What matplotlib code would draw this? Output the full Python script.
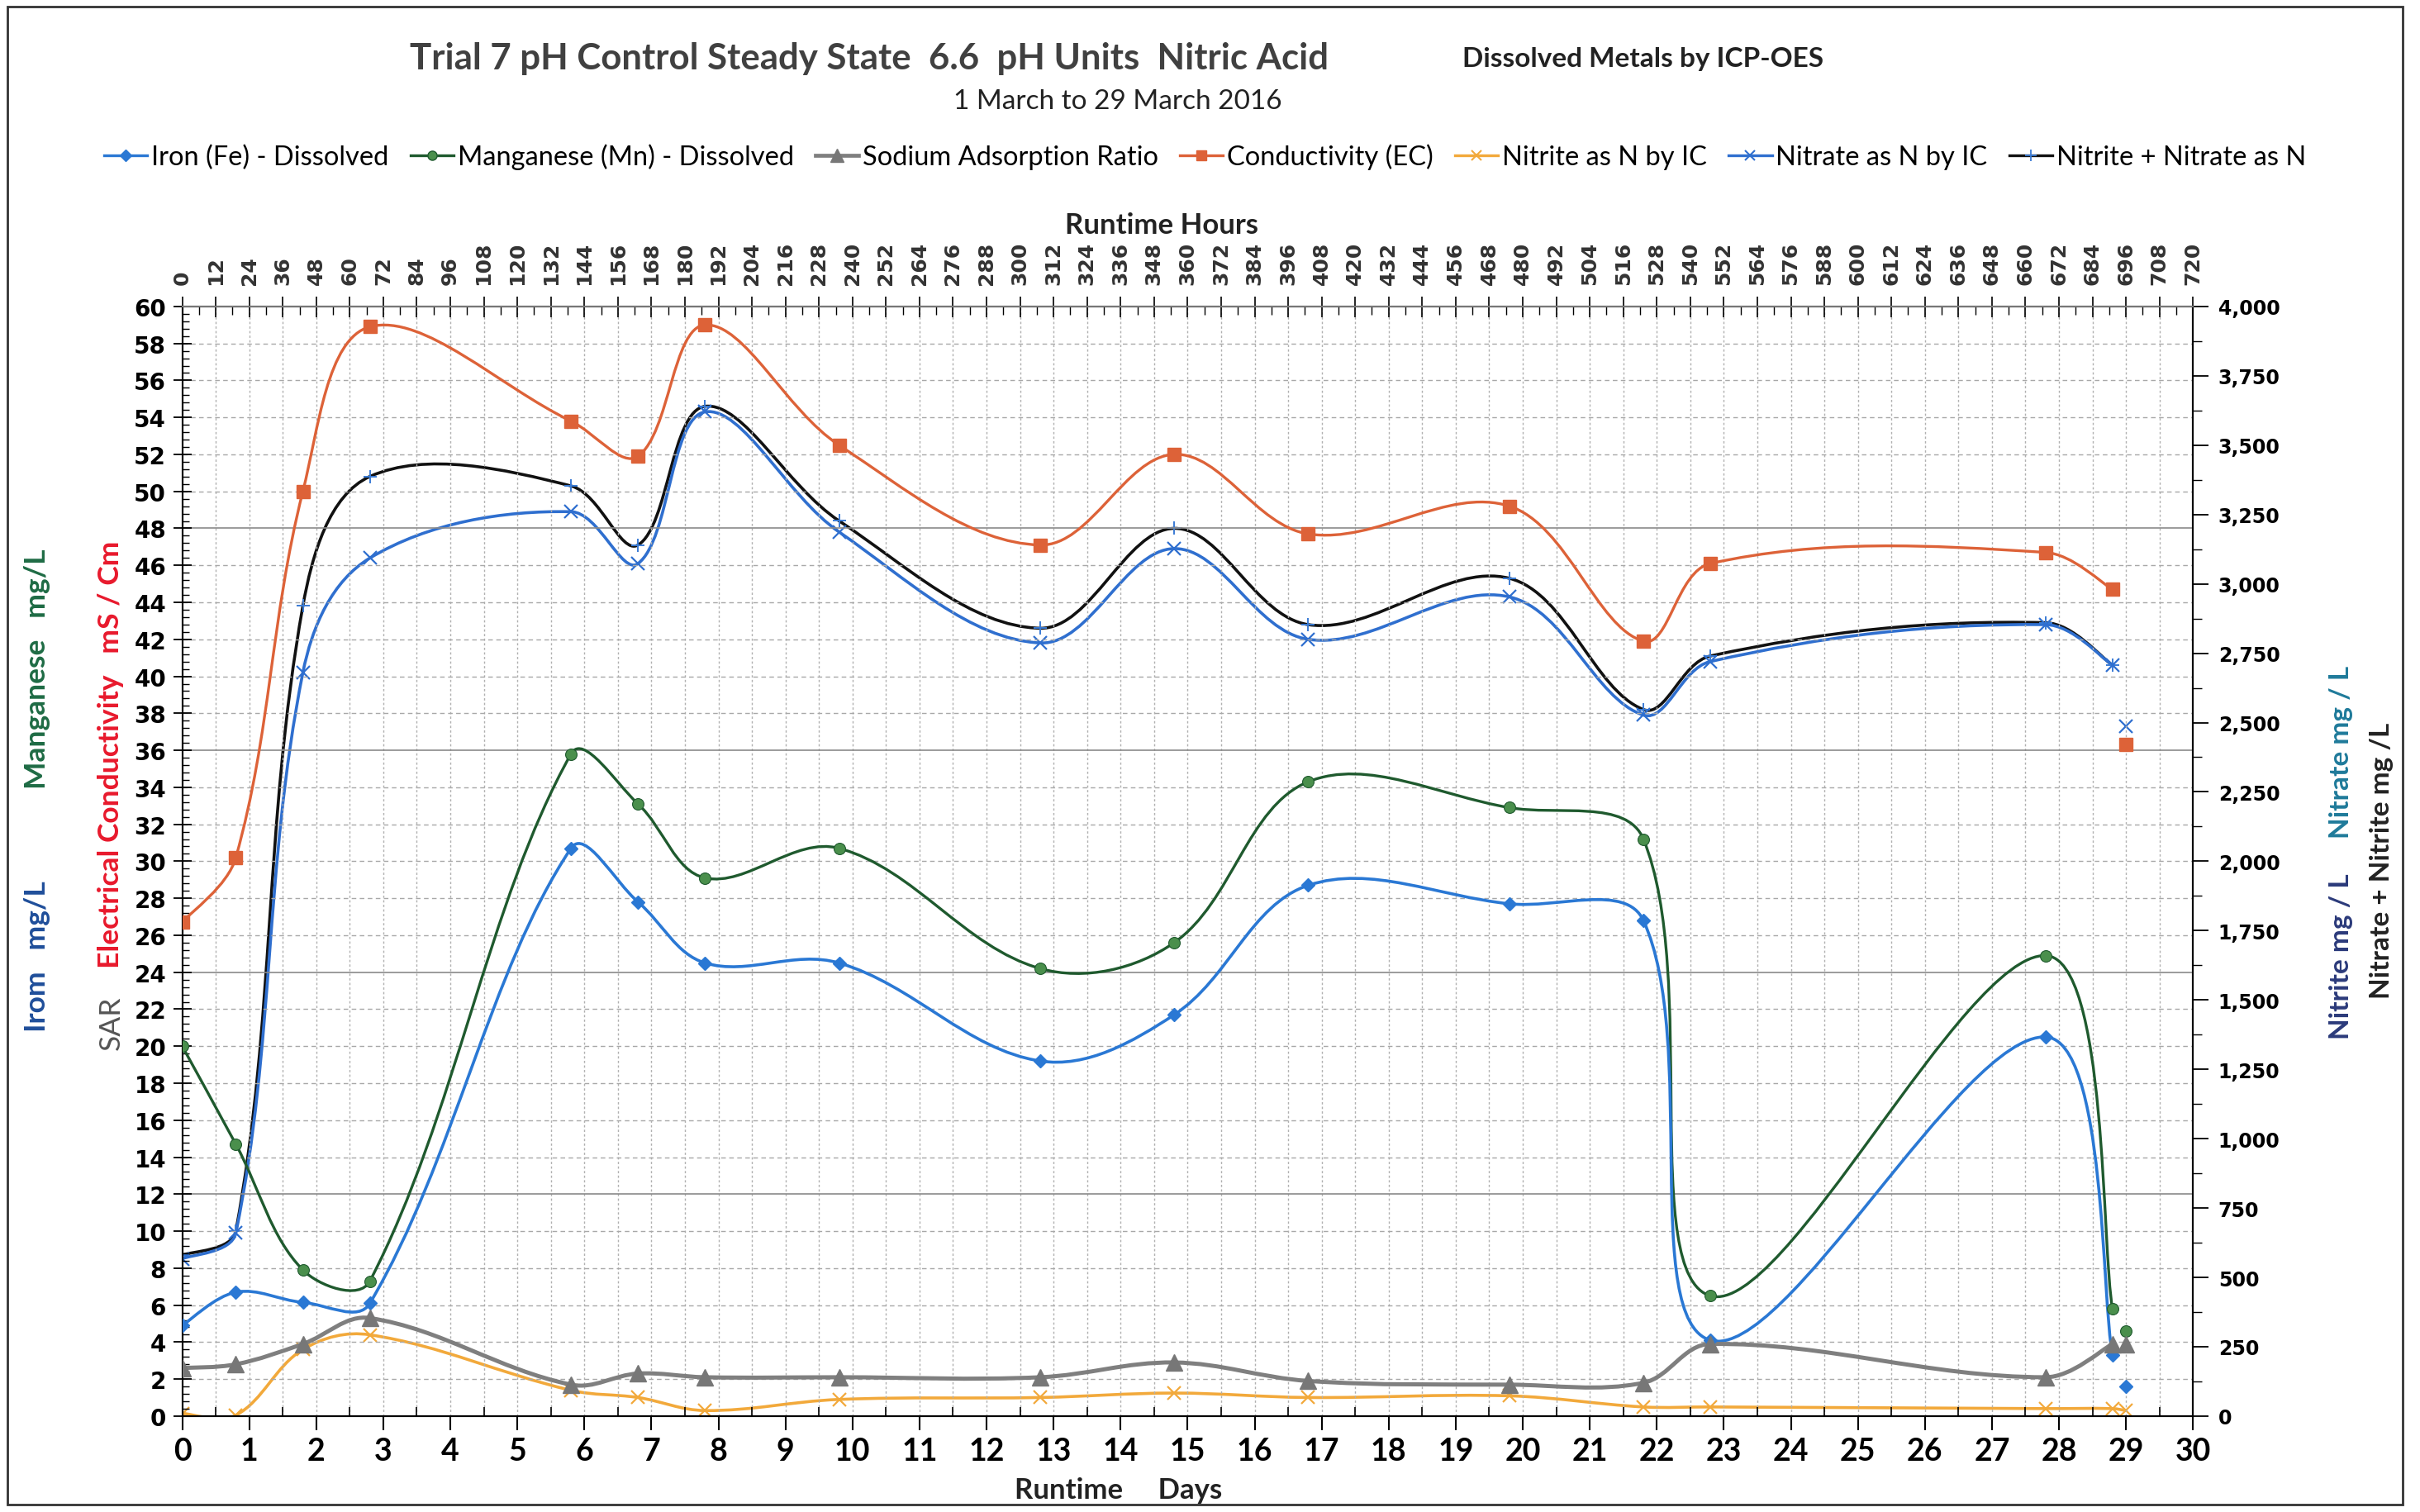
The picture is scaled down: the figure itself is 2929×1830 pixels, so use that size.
import numpy as np
import matplotlib
matplotlib.use("Agg")
import matplotlib.pyplot as plt
from matplotlib.path import Path
from matplotlib.patches import PathPatch, Rectangle
from matplotlib.lines import Line2D
from matplotlib.ticker import MultipleLocator, FuncFormatter

# runtime days of each sample (last sample, day 29, is plotted on its own)
days = [0, 0.8, 1.8, 2.8, 5.8, 6.8, 7.8, 9.8, 12.8, 14.8, 16.8, 19.8, 21.8, 22.8, 27.8, 28.8]
day_last = 29.0

# left axis series
iron = [4.9, 6.7, 6.15, 6.1, 30.7, 27.8, 24.5, 24.5, 19.2, 21.7, 28.7, 27.7, 26.8, 4.1, 20.5, 3.3]
manganese = [20.0, 14.7, 7.9, 7.3, 35.8, 33.1, 29.1, 30.7, 24.2, 25.6, 34.3, 32.9, 31.2, 6.5, 24.9, 5.8]
sar = [2.6, 2.8, 3.9, 5.3, 1.7, 2.3, 2.1, 2.1, 2.1, 2.9, 1.9, 1.7, 1.8, 3.9, 2.1, 3.9]
conductivity = [26.7, 30.2, 50.0, 58.9, 53.8, 51.9, 59.0, 52.5, 47.1, 52.0, 47.7, 49.2, 41.9, 46.1, 46.7, 44.7]

# right axis series (mg/L)
nitrite = [10, 3, 240, 293, 93, 67, 20, 60, 67, 83, 67, 73, 33, 33, 27, 27]
nitrate = [567, 660, 2680, 3093, 3260, 3073, 3620, 3187, 2787, 3127, 2800, 2953, 2527, 2720, 2853, 2707]
nitrite_nitrate = [580, 667, 2920, 3387, 3353, 3140, 3640, 3227, 2840, 3200, 2853, 3020, 2547, 2740, 2860, 2707]

# day 29 single readings
last_left = {"iron": 1.6, "manganese": 4.6, "sar": 3.9, "conductivity": 36.3}
last_right = {"nitrite": 20, "nitrate": 2487}

c_iron = "#2a78d4"
c_mn_line = "#1f5a2e"
c_mn_mark = "#4a8f4c"
c_sar = "#7f7f7f"
c_ec = "#dd6238"
c_no2 = "#f2a93b"
c_no3 = "#2f6fcf"
c_sum = "#111111"

PX_DAY = 81.1          # screen pixels per day
PX_LEFT = 1343 / 60    # screen pixels per left-axis unit
PX_RIGHT = 1343 / 4000  # screen pixels per right-axis unit


def smooth(ax, x, y, color, lw, sy, z=3, k=0.36):
    # Excel-like smoothed line: bezier segments, tangents weighted by chord length
    p = np.column_stack([np.array(x, float) * PX_DAY, np.array(y, float) * sy])
    n = len(p)
    d = np.hypot(*(p[1:] - p[:-1]).T)
    c_out = np.zeros_like(p)
    c_in = np.zeros_like(p)
    for i in range(n):
        if i == 0:
            c_out[i] = p[0] + (p[1] - p[0]) / 6
        elif i == n - 1:
            c_in[i] = p[i] - (p[i] - p[i - 1]) / 6
        else:
            t = p[i + 1] - p[i - 1]
            s = d[i - 1] + d[i]
            c_out[i] = p[i] + t * d[i] / s * k
            c_in[i] = p[i] - t * d[i - 1] / s * k
    verts = [p[0]]
    codes = [Path.MOVETO]
    for i in range(n - 1):
        verts += [c_out[i], c_in[i + 1], p[i + 1]]
        codes += [Path.CURVE4] * 3
    verts = np.array(verts) / np.array([PX_DAY, sy])
    ax.add_patch(PathPatch(Path(verts, codes), fill=False, edgecolor=color, lw=lw,
                           zorder=z, capstyle="round", joinstyle="round"))


fig = plt.figure(figsize=(29.29, 18.31), dpi=100)
ax = fig.add_axes([0.0753, 0.0634, 0.8309, 0.7335])
ax2 = ax.twinx()

ax.set_xlim(0, 30)
ax.set_ylim(0, 60)
ax2.set_ylim(0, 4000)
ax.set_zorder(2)
ax.patch.set_visible(False)

# grid
for h in np.arange(12, 720, 12):
    ax.axvline(h / 24, color="#b0b0b0", lw=1.0, ls=(0, (2, 2)), zorder=0)
for v in np.arange(2, 60, 2):
    if v % 12 == 0:
        ax.axhline(v, color="#8a8a8a", lw=1.2, zorder=0)
    else:
        ax.axhline(v, color="#a8a8a8", lw=1.0, ls=(0, (4, 3)), zorder=0)

# left axis series
smooth(ax, days, conductivity, c_ec, 2.4, PX_LEFT)
ax.plot(days, conductivity, ls="none", marker="s", ms=11, color=c_ec, zorder=4)
ax.plot(day_last, last_left["conductivity"], ls="none", marker="s", ms=11, color=c_ec, zorder=4)

smooth(ax, days, manganese, c_mn_line, 2.4, PX_LEFT)
ax.plot(days, manganese, ls="none", marker="o", ms=10, color=c_mn_mark, mec=c_mn_line, mew=0.8, zorder=4)
ax.plot(day_last, last_left["manganese"], ls="none", marker="o", ms=10, color=c_mn_mark, mec=c_mn_line, mew=0.8, zorder=4)

smooth(ax, days, iron, c_iron, 2.6, PX_LEFT)
ax.plot(days, iron, ls="none", marker="D", ms=8, color=c_iron, zorder=4)
ax.plot(day_last, last_left["iron"], ls="none", marker="D", ms=8, color=c_iron, zorder=4)

smooth(ax, days, sar, c_sar, 3.6, PX_LEFT)
ax.plot(days, sar, ls="none", marker="^", ms=14, color="#777777", zorder=4)
ax.plot(day_last, last_left["sar"], ls="none", marker="^", ms=14, color="#777777", zorder=4)

# right axis series (nitrite line runs on to the day 29 reading)
smooth(ax2, days + [day_last], nitrite + [last_right["nitrite"]], c_no2, 2.6, PX_RIGHT)
ax2.plot(days, nitrite, ls="none", marker="x", ms=11, mew=1.6, color=c_no2, zorder=4)
ax2.plot(day_last, last_right["nitrite"], ls="none", marker="x", ms=11, mew=1.6, color=c_no2, zorder=4)

smooth(ax2, days, nitrite_nitrate, c_sum, 2.6, PX_RIGHT)
ax2.plot(days, nitrite_nitrate, ls="none", marker="+", ms=12, mew=1.4, color="#3a7bd5", zorder=4)

smooth(ax2, days, nitrate, c_no3, 2.6, PX_RIGHT)
ax2.plot(days, nitrate, ls="none", marker="x", ms=11, mew=1.6, color=c_no3, zorder=4)
ax2.plot(day_last, last_right["nitrate"], ls="none", marker="x", ms=11, mew=1.6, color=c_no3, zorder=4)

# axes formatting
ax.xaxis.set_major_locator(MultipleLocator(1))
ax.xaxis.set_minor_locator(MultipleLocator(0.5))
ax.yaxis.set_major_locator(MultipleLocator(2))
ax.yaxis.set_minor_locator(MultipleLocator(0.4))
ax.tick_params(axis="x", which="major", direction="out", length=12, width=1.5, pad=6,
               labelsize=27)
ax.tick_params(axis="x", which="minor", direction="in", length=8, width=1.2)
ax.tick_params(axis="y", which="major", direction="inout", length=16, width=1.3, pad=6,
               labelsize=20)
ax.tick_params(axis="y", which="minor", direction="in", length=6, width=1.0)
for lab in ax.get_xticklabels():
    lab.set_fontfamily("Lato")
    lab.set_fontweight("bold")
for lab in ax.get_yticklabels():
    lab.set_fontweight("bold")

ax2.yaxis.set_major_locator(MultipleLocator(250))
ax2.yaxis.set_minor_locator(MultipleLocator(125))
ax2.yaxis.set_major_formatter(FuncFormatter(lambda v, p: f"{int(v):,}"))
ax2.tick_params(axis="y", which="major", direction="out", length=14, width=1.3, pad=8,
                labelsize=17)
ax2.tick_params(axis="y", which="minor", direction="out", length=8, width=1.0)
for lab in ax2.get_yticklabels():
    lab.set_fontweight("bold")

top = ax.secondary_xaxis("top", functions=(lambda d: d * 24, lambda h: h / 24))
top.xaxis.set_major_locator(MultipleLocator(12))
top.xaxis.set_minor_locator(MultipleLocator(6))
top.tick_params(axis="x", which="major", direction="inout", length=18, width=1.2, pad=10,
                labelsize=18, labelrotation=90, labelcolor="#333333")
top.tick_params(axis="x", which="minor", direction="in", length=7, width=1.0)
for lab in top.get_xticklabels():
    lab.set_fontweight("bold")

for sp in ["left", "right", "top", "bottom"]:
    ax.spines[sp].set_linewidth(1.5)
    ax2.spines[sp].set_linewidth(1.5)
ax.spines["top"].set_color("#777777")
top.spines["top"].set_color("#777777")

# titles
fig.text(0.359, 0.961, "Trial 7 pH Control Steady State  6.6  pH Units  Nitric Acid",
         ha="center", va="center", fontsize=31.5, fontweight="bold", family="Lato", color="#404040")
fig.text(0.679, 0.961, "Dissolved Metals by ICP-OES", ha="center", va="center",
         fontsize=24, fontweight="bold", family="Lato", color="#222222")
fig.text(0.462, 0.933, "1 March to 29 March 2016", ha="center", va="center",
         fontsize=24, family="Lato", color="#222222")
fig.text(0.480, 0.851, "Runtime Hours", ha="center", va="center",
         fontsize=25, fontweight="bold", family="Lato", color="#222222")
fig.text(0.462, 0.015, "Runtime     Days", ha="center", va="center",
         fontsize=25, fontweight="bold", family="Lato", color="#222222")

# axis titles
fig.text(0.0153, 0.558, "Manganese   mg/L", rotation=90, ha="center", va="center",
         fontsize=25.5, fontweight="bold", family="Lato", color="#1e6b44")
fig.text(0.0153, 0.368, "Irom   mg/L", rotation=90, ha="center", va="center",
         fontsize=25.5, fontweight="bold", family="Lato", color="#1f4e9a")
fig.text(0.0459, 0.501, "Electrical Conductivity   mS / Cm", rotation=90, ha="center",
         va="center", fontsize=25.5, fontweight="bold", family="Lato", color="#e8192c")
fig.text(0.0459, 0.324, "SAR", rotation=90, ha="center", va="center",
         fontsize=25.5, family="Lato", color="#555555")
fig.text(0.9675, 0.368, "Nitrite mg / L", rotation=90, ha="center", va="center",
         fontsize=24, fontweight="bold", family="Lato", color="#2b3a7a")
fig.text(0.9675, 0.503, "Nitrate mg / L", rotation=90, ha="center", va="center",
         fontsize=24, fontweight="bold", family="Lato", color="#1f7a9a")
fig.text(0.984, 0.431, "Nitrate + Nitrite mg /L", rotation=90, ha="center", va="center",
         fontsize=24, fontweight="bold", family="Lato", color="#222222")

# legend
handles = [
    Line2D([], [], color=c_iron, lw=2.4, marker="D", ms=7),
    Line2D([], [], color=c_mn_line, lw=2.4, marker="o", ms=8, mfc=c_mn_mark),
    Line2D([], [], color=c_sar, lw=3.4, marker="^", ms=12, mfc="#777777", mec="#777777"),
    Line2D([], [], color=c_ec, lw=2.4, marker="s", ms=9),
    Line2D([], [], color=c_no2, lw=2.4, marker="x", ms=9, mew=1.5),
    Line2D([], [], color=c_no3, lw=2.4, marker="x", ms=9, mew=1.5),
    Line2D([], [], color=c_sum, lw=2.4, marker="+", ms=10, mew=1.3, mec="#3a7bd5"),
]
labels = ["Iron (Fe) - Dissolved", "Manganese (Mn) - Dissolved", "Sodium Adsorption Ratio",
          "Conductivity (EC)", "Nitrite as N by IC", "Nitrate as N by IC", "Nitrite + Nitrate as N"]
fig.legend(handles, labels, loc="center", bbox_to_anchor=(0.498, 0.896), ncol=7,
           frameon=False, handlelength=1.6, handletextpad=0.15, columnspacing=0.8,
           prop={"family": "Lato", "size": 23.5})

# chart border
fig.add_artist(Rectangle((0.003, 0.005), 0.99, 0.99, transform=fig.transFigure,
                         fill=False, edgecolor="#333333", lw=2))

fig.savefig("out.png", dpi=100)
